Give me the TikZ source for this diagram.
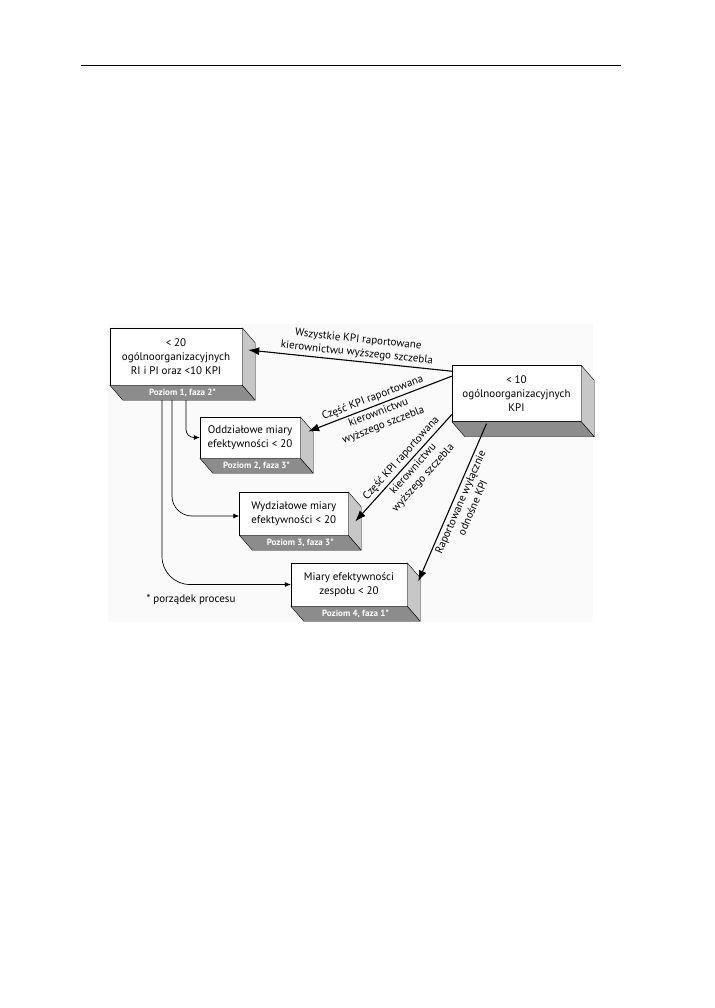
\documentclass[tikz,border=0pt]{standalone}
\usepackage{fontspec}
\setmainfont{PT Sans}
\usetikzlibrary{positioning, arrows.meta, calc}

\begin{document}
\begin{tikzpicture}[
    x=1pt, y=-1pt,
    box/.style={draw, fill=white, inner sep=2pt, align=center, font=\fontsize{11}{14}\selectfont},
    side/.style={draw, fill=black!22, line join=round},
    base/.style={draw, fill=black!45, line join=round},
    tag/.style={text=white, inner sep=1pt, font=\fontsize{9}{10}\selectfont\bfseries},
    note/.style={font=\fontsize{11}{13.5}\selectfont, align=center, inner sep=2.5pt},
    report/.style={-{Latex[length=11pt, width=8pt]}, line width=1.1pt},
    flow/.style={-{Latex[length=6pt, width=5pt]}, line width=0.7pt},
]
  \useasboundingbox (0,0) rectangle (714,1008);
  \draw[line width=0.9pt] (81,65) -- (621,65);
  \fill[black!2] (108,324) rectangle (593,622);

  % levels
  \node[box, minimum width=132pt, minimum height=57pt] (lvl1) at (176,356.5) {\textless{} 20\\ogólnoorganizacyjnych\\RI i PI oraz \textless{}10 KPI};
  \node[box, minimum width=129pt, minimum height=56pt] (kpi) at (516.5,393.5) {\textless{} 10\\ogólnoorganizacyjnych\\KPI};
  \node[box, minimum width=100pt, minimum height=41pt] (lvl2) at (250,437.5) {Oddziałowe miary\\efektywności \textless{} 20};
  \node[box, minimum width=108.5pt, minimum height=43pt] (lvl3) at (293.75,513.5) {Wydziałowe miary\\efektywności \textless{} 20};
  \node[box, minimum width=116pt, minimum height=43pt] (lvl4) at (349,584.5) {Miary efektywności\\zespołu \textless{} 20};

  \foreach \b in {lvl1, kpi, lvl2, lvl3, lvl4} {
    \draw[side] (\b.north east) -- ++(13,15) -- ($(\b.south east)+(13,15)$) -- (\b.south east) -- cycle;
    \draw[base] (\b.south west) -- ++(13,15) -- ($(\b.south east)+(13,15)$) -- (\b.south east) -- cycle;
  }

  \node[tag] (tag1) at ($(lvl1.south)+(6.5,7.5)$) {Poziom 1, faza 2*};
  \node[tag] (tag2) at ($(lvl2.south)+(6.5,7.5)$) {Poziom 2, faza 3*};
  \node[tag] (tag3) at ($(lvl3.south)+(6.5,7.5)$) {Poziom 3, faza 3*};
  \node[tag] (tag4) at ($(lvl4.south)+(6.5,7.5)$) {Poziom 4, faza 1*};

  % reporting
  \draw[report] (kpi.161) -- node[note, above, sloped, pos=0.47] (all) {Wszystkie KPI raportowane\\kierownictwu wyższego szczebla} ($(lvl1.east)+(6,-6.5)$);
  \draw[report] (kpi.165) -- node[note, above, sloped, pos=0.53] (part2) {Część KPI raportowana} node[note, below, sloped, pos=0.53] (mgmt2) {kierownictwu\\wyższego szczebla} ($(lvl2.east)+(8,-6)$);
  \draw[report] (kpi.198) -- node[note, above, sloped, pos=0.46] (part3) {Część KPI raportowana} node[note, below, sloped, pos=0.46] (mgmt3) {kierownictwu\\wyższego szczebla} ($(lvl3.east)+(7,8)$);
  \draw[report] ($(kpi.south)+(-30,2)$) -- node[note, below, sloped, pos=0.48] (only) {Raportowane wyłącznie\\odnośne KPI} ($(lvl4.east)+(11,-3)$);

  % cascade
  \draw[flow, rounded corners=8pt] ($(lvl1.south)+(10,15)$) |- (lvl2.west);
  \draw[flow, rounded corners=20pt] ($(lvl1.south)+(-4,15)$) |- ($(lvl3.west)+(0,2.5)$);
  \draw[flow, rounded corners=28pt] ($(lvl1.south)+(-14,15)$) |- (lvl4.west);

  \node[note] (legend) at (191,600) {* porządek procesu};
\end{tikzpicture}
\end{document}
